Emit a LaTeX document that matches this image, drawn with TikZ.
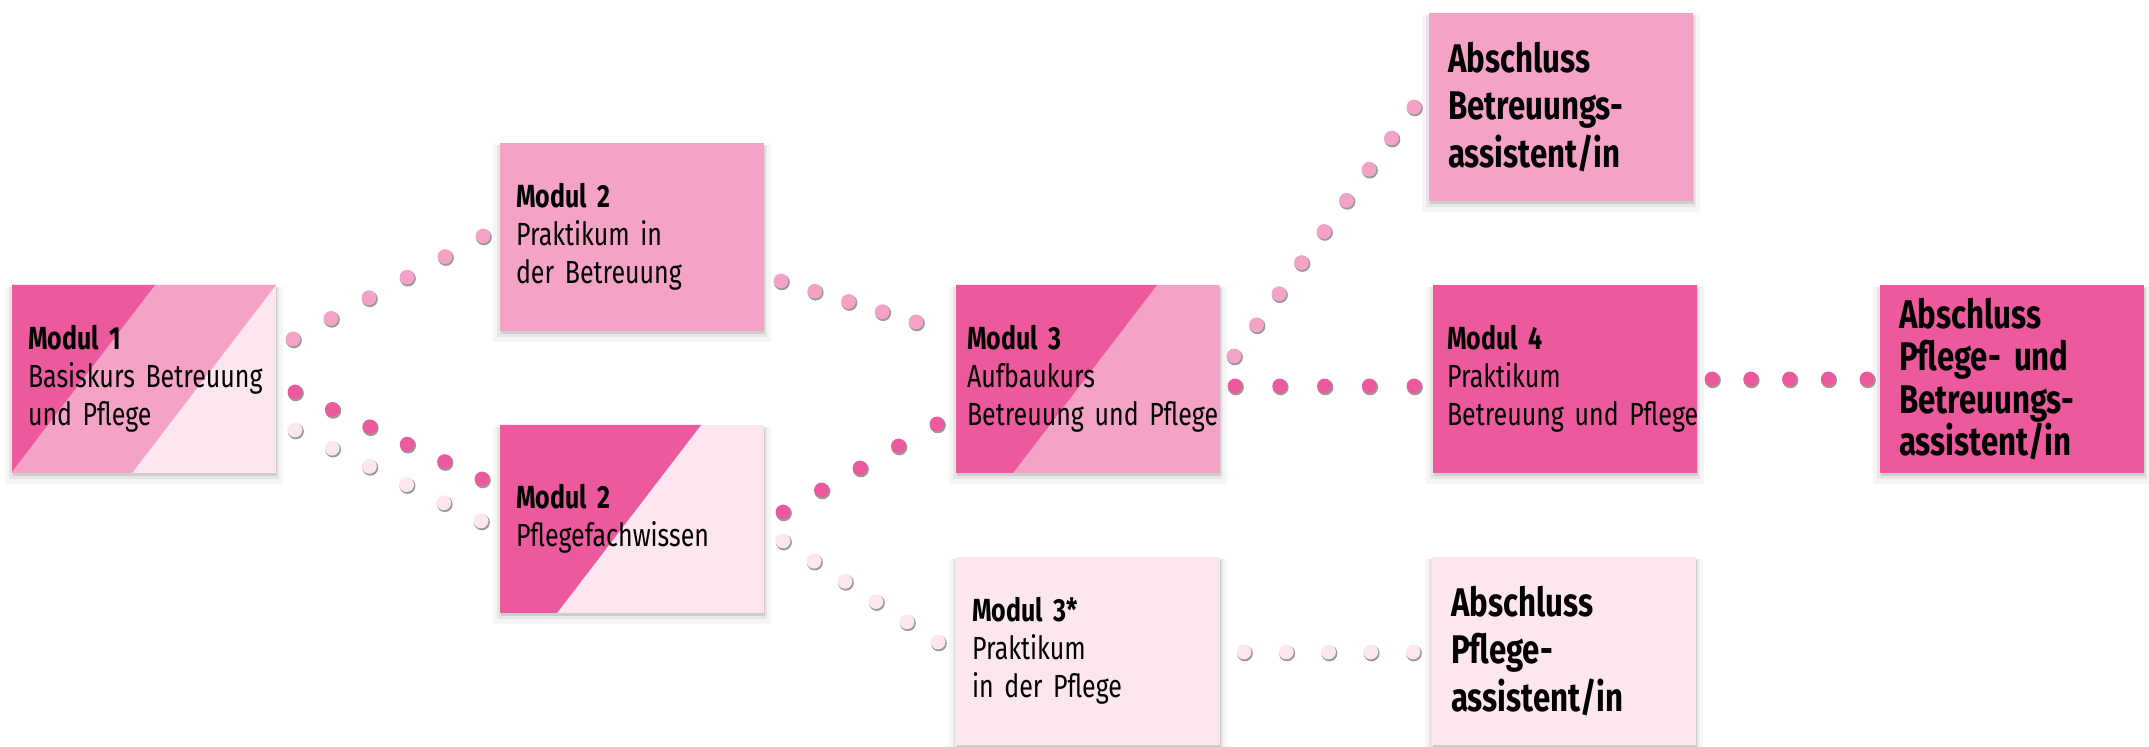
\documentclass[tikz,border=0pt]{standalone}
\usepackage{fontspec}
\setmainfont{Fira Sans}[FakeStretch=0.78, WordSpace=0.7]
\usepackage{xcolor}
\usepackage{tikz}
\usetikzlibrary{calc,shadows,positioning}

\definecolor{pinkdark}{HTML}{EC5A9D}
\definecolor{pinkmid}{HTML}{F4A3C7}
\definecolor{pinklight}{HTML}{FCE7F1}

% diagonal band inside a box: colour, offset of its top edge
\newcommand{\diagfill}[2]{%
  \fill[#1] (path picture bounding box.north west) -- ++(#2,0) -- ++(-144,188) -- (path picture bounding box.south west) -- cycle;}

% row of dots: colour, node, offset, node, offset, number of dots
\newcommand{\dotrow}[6]{%
  \coordinate (dA) at ($(#2)+(#3)$);
  \coordinate (dB) at ($(#4)+(#5)$);
  \foreach \k in {1,...,#6}{
    \pgfmathsetmacro{\dotpos}{(\k-1)/(#6-1)}
    \path[fill=#1, dotshadow] ($(dA)!\dotpos!(dB)$) circle (3.7pt);
  }}

\begin{document}
\begin{tikzpicture}[x=0.5pt, y=-0.5pt,
  boxshadow/.style={
    general shadow={fill=black, opacity=0.04, shadow yshift=-3pt, shadow scale=1.05},
    general shadow={fill=black, opacity=0.06, shadow yshift=-2pt, shadow scale=1.025},
    general shadow={fill=black, opacity=0.10, shadow xshift=0.5pt, shadow yshift=-1.5pt}},
  dotshadow/.style={general shadow={fill=black!50, opacity=0.8, shadow scale=1.08, shadow xshift=0.4pt, shadow yshift=-0.6pt}},
  modbox/.style={boxshadow, minimum width=132pt, minimum height=94pt, inner xsep=8pt, inner ysep=0pt,
    text width=116pt, align=left, outer sep=0pt, font=\fontsize{16}{19}\selectfont},
  endbox/.style={modbox, inner xsep=9.5pt, text width=113pt, font=\bfseries\fontsize{20}{23.75}\selectfont}]

\path[fill=white, use as bounding box] (0,0) rectangle (2149,747);

% Modules
\node[modbox, fill=pinklight, path picture={\diagfill{pinkmid}{264}\diagfill{pinkdark}{143}}] (m1) at (144,379) {
    \textbf{Modul 1}\\
    \mbox{Basiskurs Betreuung}\\
    und Pflege
};

\node[modbox, fill=pinkmid] (m2a) at (632,237) {
    \textbf{Modul 2}\\
    Praktikum in\\
    der Betreuung
};

\node[modbox, fill=pinklight, path picture={\diagfill{pinkdark}{201}}] (m2b) at (632,519) {
    \textbf{Modul 2}\\
    Pflegefachwissen
};

\node[modbox, fill=pinkmid, inner xsep=5.5pt, text width=121pt, path picture={\diagfill{pinkdark}{201}}] (m3) at (1088,379) {
    \textbf{Modul 3}\\
    Aufbaukurs\\
    \mbox{Betreuung und Pflege}
};

\node[modbox, fill=pinklight] (m3s) at (1088,651) {
    \textbf{Modul 3*}\\
    Praktikum\\
    in der Pflege
};

\node[modbox, fill=pinkdark, inner xsep=7pt, text width=118pt] (m4) at (1565,379) {
    \textbf{Modul 4}\\
    Praktikum\\
    \mbox{Betreuung und Pflege}
};

% Qualifications
\node[endbox, fill=pinkmid] (a1) at (1561,107) {
    Abschluss\\
    Betreuungs-\\
    assistent/in
};

\node[endbox, fill=pinkdark, font=\bfseries\fontsize{20}{21.25}\selectfont] (a2) at (2012,379) {
    Abschluss\\
    Pflege- und\\
    Betreuungs-\\
    assistent/in
};

\node[endbox, fill=pinklight] (a3) at (1564,651) {
    Abschluss\\
    Pflege-\\
    assistent/in
};

% Dotted paths
\dotrow{pinkmid}{m1.east}{17,-40}{m2a.west}{-17,-1}{6}
\dotrow{pinkdark}{m1.east}{19,13}{m2b.west}{-18,-40}{6}
\dotrow{pinklight}{m1.east}{19,51}{m2b.west}{-19,2}{6}
\dotrow{pinkmid}{m2a.east}{17,44}{m3.west}{-40,-57}{5}
\dotrow{pinkdark}{m2b.east}{19,-7}{m3.west}{-19,45}{5}
\dotrow{pinklight}{m2b.east}{19,22}{m3s.west}{-18,-9}{6}
\dotrow{pinkmid}{m3.east}{14,-23}{a1.west}{-15,0}{9}
\dotrow{pinkdark}{m3.east}{15,7}{m4.west}{-19,7}{5}
\dotrow{pinkdark}{m4.east}{15,0}{a2.west}{-13,0}{5}
\dotrow{pinklight}{m3s.east}{24,1}{a3.west}{-19,1}{5}

\end{tikzpicture}
\end{document}
